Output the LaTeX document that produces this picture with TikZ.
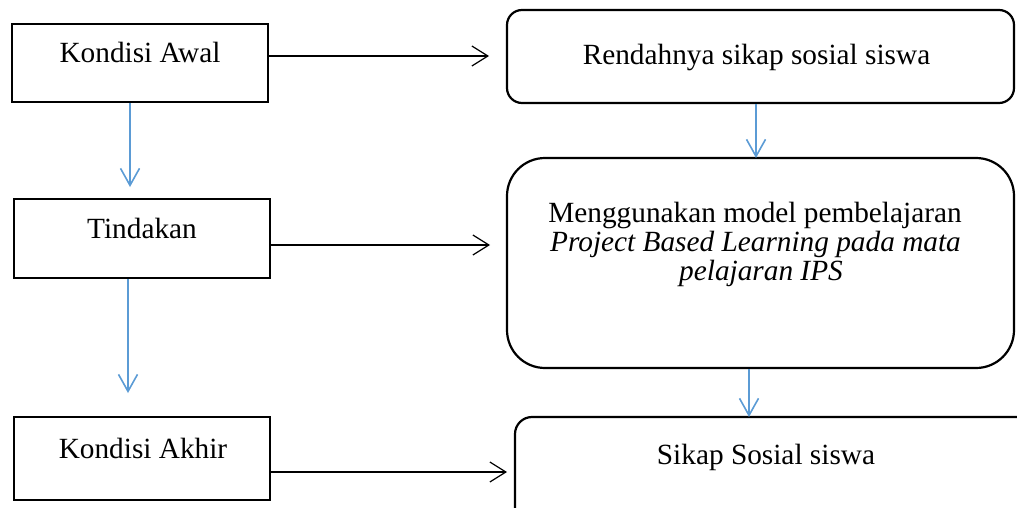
\documentclass[tikz,border=0pt]{standalone}
\usepackage{fontspec}
\setmainfont{Liberation Serif}
\usetikzlibrary{arrows.meta}
\definecolor{arrblue}{RGB}{91,155,213}
\begin{document}
\begin{tikzpicture}[x=1pt,y=-1pt,
  sqbox/.style={draw=black,line width=2.5pt,minimum width=#1,inner sep=0pt},
  rbox/.style={draw=black,line width=2.2pt,rounded corners=15pt,inner sep=0pt},
  txt/.style={anchor=base,inner sep=0pt,font=\fontsize{29.3pt}{29pt}\selectfont},
  blk/.style={draw=black,line width=1.2pt,-{Straight Barb[length=16pt,width=20pt,line width=1.2pt]}},
  blu/.style={draw=arrblue,line width=1.6pt,-{Straight Barb[length=17pt,width=19pt,line width=1.6pt]}}]
\useasboundingbox (0,0) rectangle (1017,508);
% left boxes
\node[sqbox=256pt,minimum height=78pt] (ka) at (140,63) {};
\node[sqbox=256pt,minimum height=79pt] (td) at (142,238.5) {};
\node[sqbox=256pt,minimum height=83pt] (kk) at (142,458.5) {};
% right boxes
\node[rbox,minimum width=507pt,minimum height=93pt] (rs) at (760.5,56.5) {};
\node[rbox,rounded corners=38pt,minimum width=507pt,minimum height=210pt] (mg) at (760.5,263) {};
\node[rbox,rounded corners=17pt,minimum width=520pt,minimum height=110pt] (ss) at (775,472) {};
% texts
\node[txt] (tka) at (140,63) {Kondisi Awal};
\node[txt] (ttd) at (142,238) {Tindakan};
\node[txt] (tkk) at (143,458) {Kondisi Akhir};
\node[txt] (trs) at (756.5,65) {Rendahnya sikap sosial siswa};
\node[txt] (tmg1) at (755,222) {Menggunakan model pembelajaran};
\node[txt] (tmg2) at (755.5,251) {\itshape Project Based Learning pada mata};
\node[txt] (tmg3) at (761,280) {\itshape pelajaran IPS};
\node[txt] (tss) at (766,464) {Sikap Sosial siswa};
% free arrow ends
\coordinate (e1) at (489,56);
\coordinate (e2) at (490,245);
\coordinate (e3) at (507,472);
\coordinate (d1) at (130,187);
\coordinate (d2) at (128,393);
\coordinate (d3) at (756,158);
\coordinate (d4) at (749,417);
% black arrows
\draw[blk] (ka.east |- e1) -- (e1);
\draw[blk] (td.east |- e2) -- (e2);
\draw[blk] (kk.east |- e3) -- (e3);
% blue arrows
\draw[blu] (ka.south -| d1) -- (d1);
\draw[blu] (td.south -| d2) -- (d2);
\draw[blu] (rs.south -| d3) -- (d3);
\draw[blu] (mg.south -| d4) -- (d4);
\end{tikzpicture}
\end{document}
